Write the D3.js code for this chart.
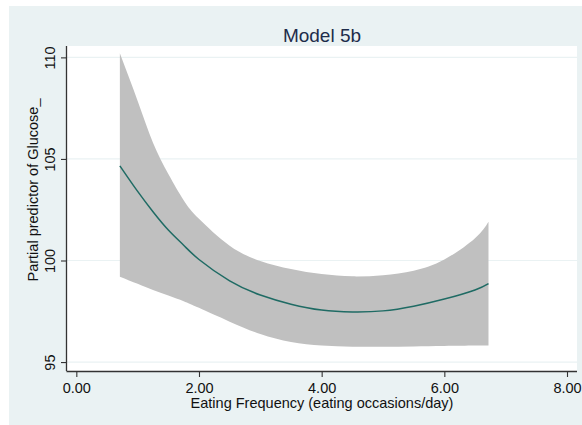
<!DOCTYPE html>
<html>
<head>
<meta charset="utf-8">
<script src="https://cdn.jsdelivr.net/npm/d3@7/dist/d3.min.js"></script>
<style>
  html, body { margin: 0; padding: 0; background: #ffffff; }
  svg { display: block; font-family: "Liberation Sans", Arial, Helvetica, sans-serif; }
</style>
</head>
<body>
<svg id="chart" width="582" height="425"></svg>
<script>
// ---- data ----
const freq  = [0.71, 1.0, 1.25, 1.5, 1.75, 2.0, 2.5, 3.0, 3.5, 4.0, 4.5, 5.0, 5.5, 6.0, 6.5, 6.72];
const fit   = [104.66, 103.4, 102.4, 101.5, 100.75, 100.05, 99.0, 98.3, 97.85, 97.56, 97.47, 97.52, 97.75, 98.1, 98.55, 98.86];
const upper = [110.2, 107.85, 105.8, 104.26, 102.97, 102.05, 100.73, 99.98, 99.58, 99.33, 99.22, 99.28, 99.5, 100.05, 101.1, 101.91];
const lower = [99.2, 98.85, 98.55, 98.28, 98.0, 97.67, 96.99, 96.38, 95.99, 95.82, 95.76, 95.75, 95.77, 95.79, 95.81, 95.82];
const xTicks = [0, 2, 4, 6, 8];
const yTicks = [95, 100, 105, 110];
const titleText = "Model 5b";
const xTitle = "Eating Frequency (eating occasions/day)";
const yTitle = "Partial predictor of Glucose_";

// ---- layout ----
const svg = d3.select("#chart");
const W = 582, H = 425;
const plot = { left: 67, right: 577, top: 46, bottom: 371 };
const bg = "#eaf2f3";

svg.append("rect").attr("x", 9).attr("y", 6).attr("width", W - 9).attr("height", H - 6).attr("fill", bg);
svg.append("rect").attr("x", plot.left).attr("y", plot.top)
  .attr("width", plot.right - plot.left).attr("height", plot.bottom - plot.top).attr("fill", "#ffffff");

const x = d3.scaleLinear().domain([-0.152, 8.163]).range([plot.left, plot.right]);
const y = d3.scaleLinear().domain([94.56, 110.56]).range([plot.bottom, plot.top]);

// gridlines
svg.append("g").selectAll("line").data(yTicks).join("line")
  .attr("x1", plot.left).attr("x2", plot.right)
  .attr("y1", d => y(d)).attr("y2", d => y(d))
  .attr("stroke", bg).attr("stroke-width", 1.2);

const pts = freq.map((f, i) => ({ f, fit: fit[i], lo: lower[i], hi: upper[i] }));

// CI band
svg.append("path").datum(pts)
  .attr("d", d3.area().x(d => x(d.f)).y0(d => y(d.lo)).y1(d => y(d.hi)).curve(d3.curveNatural))
  .attr("fill", "#c0c0c0");

// fitted line
svg.append("path").datum(pts)
  .attr("d", d3.line().x(d => x(d.f)).y(d => y(d.fit)).curve(d3.curveNatural))
  .attr("fill", "none").attr("stroke", "#1f6b64").attr("stroke-width", 1.5);

// axes
const xAxis = svg.append("g").attr("transform", `translate(0,${plot.bottom})`)
  .call(d3.axisBottom(x).tickValues(xTicks).tickFormat(d3.format(".2f")).tickSize(6).tickSizeOuter(0));
xAxis.select(".domain").attr("d", `M${plot.left - 0.5},0.5H${plot.right}`).attr("stroke", "#333").attr("stroke-width", 1.3);
xAxis.selectAll(".tick line").attr("stroke", "#333").attr("stroke-width", 1.1);
xAxis.selectAll(".tick text").attr("font-size", 14.5).attr("fill", "#111").attr("dy", null).attr("y", 22)
  .attr("font-family", "Liberation Sans, Arial, sans-serif");

const yAxis = svg.append("g").attr("transform", `translate(${plot.left},0)`)
  .call(d3.axisLeft(y).tickValues(yTicks).tickSize(6).tickSizeOuter(0));
yAxis.select(".domain").attr("d", `M-0.5,${plot.top}V${plot.bottom}`).attr("stroke", "#333").attr("stroke-width", 1.3);
yAxis.selectAll(".tick line").attr("stroke", "#333").attr("stroke-width", 1.1);
yAxis.selectAll(".tick text")
  .attr("font-size", 14.5).attr("fill", "#111").attr("font-family", "Liberation Sans, Arial, sans-serif")
  .attr("x", null).attr("dy", null)
  .attr("text-anchor", "middle")
  .attr("transform", "translate(-12,0) rotate(-90)");

// titles
svg.append("text").attr("x", 322).attr("y", 42).attr("text-anchor", "middle")
  .attr("font-size", 19).attr("fill", "#1e2c4a").text(titleText);
svg.append("text").attr("x", 322).attr("y", 408).attr("text-anchor", "middle")
  .attr("font-size", 14.5).attr("fill", "#111").text(xTitle);
svg.append("text").attr("transform", "translate(38,190) rotate(-90)").attr("text-anchor", "middle")
  .attr("font-size", 14.5).attr("fill", "#111").text(yTitle);
</script>
</body>
</html>
